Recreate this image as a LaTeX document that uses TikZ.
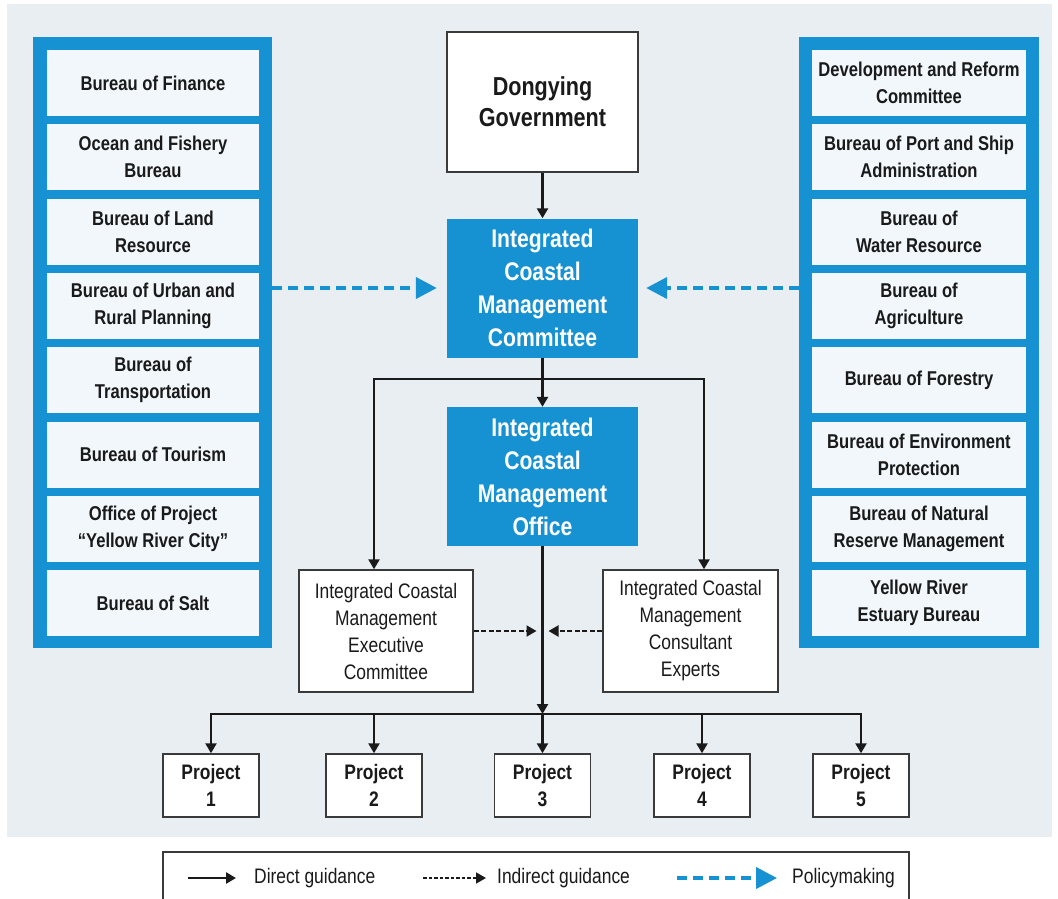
\documentclass[tikz,border=0pt]{standalone}
\usepackage{fontspec}
\setmainfont[FakeStretch=0.83]{Liberation Sans}
\usetikzlibrary{arrows.meta}
\definecolor{bgc}{HTML}{E8EEF2}
\definecolor{blu}{HTML}{1691D2}
\definecolor{inbox}{HTML}{F1F7FB}
\definecolor{edge}{HTML}{3A3A3A}
\definecolor{ink}{HTML}{1A1A1A}
\begin{document}
\begin{tikzpicture}[x=1pt,y=-1pt,
  panel/.style={fill=blu, draw=none, minimum height=611, inner sep=0},
  agency/.style={fill=inbox, draw=none, minimum height=66, inner sep=0, align=center,
     font=\bfseries\fontsize{20}{27}\selectfont, text=ink},
  govbox/.style={fill=white, draw=edge, line width=1.5, minimum width=191, minimum height=140,
     inner sep=0, align=center, font=\bfseries\fontsize{26}{31}\selectfont, text=ink},
  bluebox/.style={fill=blu, draw=none, minimum width=191, minimum height=139, inner sep=0,
     text=white, align=center, font=\bfseries\fontsize{25.5}{33}\selectfont},
  subbox/.style={fill=white, draw=edge, line width=1.5, minimum height=122, inner sep=0,
     align=center, font=\fontsize{21}{27}\selectfont, text=ink},
  projbox/.style={fill=white, draw=edge, line width=1.5, minimum width=96, minimum height=63,
     inner sep=0, align=center, font=\bfseries\fontsize{21}{27}\selectfont, text=ink},
  legtext/.style={anchor=west, inner sep=0, font=\fontsize{21}{25}\selectfont, text=ink},
  direct/.style={draw=ink, line width=2.4, -{Triangle[width=11pt,length=10pt]}},
  plain/.style={draw=ink, line width=2.4, line cap=rect},
  indirect/.style={draw=ink, line width=2, dash pattern=on 5pt off 2.5pt, -{Triangle[width=11pt,length=10pt]}},
  policy/.style={draw=blu, line width=4, dash pattern=on 10pt off 6pt, -{Triangle[width=21pt,length=21pt]}}
]
\useasboundingbox (0,0) rectangle (1058,898);
% background
\fill[bgc] (7,4) rectangle (1052,837);

% panels
\node[panel, minimum width=239] (lp) at (152.5,342.5) {};
\node[panel, minimum width=240] (rp) at (919,342.5) {};

% left agencies
\node[agency, minimum width=212] (L1) at (153,83.0) {Bureau of Finance};
\node[agency, minimum width=212] (L2) at (153,157.3) {Ocean and Fishery\\Bureau};
\node[agency, minimum width=212] (L3) at (153,231.6) {Bureau of Land\\Resource};
\node[agency, minimum width=212] (L4) at (153,305.9) {Bureau of Urban and\\Rural Planning};
\node[agency, minimum width=212] (L5) at (153,380.2) {Bureau of\\Transportation};
\node[agency, minimum width=212] (L6) at (153,454.5) {Bureau of Tourism};
\node[agency, minimum width=212] (L7) at (153,528.8) {Office of Project\\“Yellow River City”};
\node[agency, minimum width=212] (L8) at (153,603.1) {Bureau of Salt};

% right agencies
\node[agency, minimum width=214] (R1) at (919,83.0) {Development and Reform\\Committee};
\node[agency, minimum width=214] (R2) at (919,157.3) {Bureau of Port and Ship\\Administration};
\node[agency, minimum width=214] (R3) at (919,231.6) {Bureau of\\Water Resource};
\node[agency, minimum width=214] (R4) at (919,305.9) {Bureau of\\Agriculture};
\node[agency, minimum width=214] (R5) at (919,380.2) {Bureau of Forestry};
\node[agency, minimum width=214] (R6) at (919,454.5) {Bureau of Environment\\Protection};
\node[agency, minimum width=214] (R7) at (919,528.8) {Bureau of Natural\\Reserve Management};
\node[agency, minimum width=214] (R8) at (919,603.1) {Yellow River\\Estuary Bureau};

% centre column
\node[govbox] (gov) at (542.5,102) {Dongying\\Government};
\node[bluebox] (com) at (542.5,288) {Integrated\\Coastal\\Management\\Committee};
\node[bluebox] (off) at (542.5,476.5) {Integrated\\Coastal\\Management\\Office};
\node[subbox, minimum width=174] (exe) at (386,631) {Integrated Coastal\\Management\\Executive\\Committee};
\node[subbox, minimum width=175] (con) at (690.5,631) {Integrated Coastal\\Management\\Consultant\\Experts};

% projects
\node[projbox] (p1) at (211,785.5) {Project\\1};
\node[projbox] (p2) at (374,785.5) {Project\\2};
\node[projbox] (p3) at (542.5,785.5) {Project\\3};
\node[projbox] (p4) at (702,785.5) {Project\\4};
\node[projbox] (p5) at (861,785.5) {Project\\5};

% policy arrows
\draw[policy] (lp.east |- com.west) -- ([xshift=-10pt]com.west);
\draw[policy] (rp.west |- com.east) -- ([xshift=8pt]com.east);

% direct guidance
\draw[direct] (gov.south) -- (com.north);
\draw[direct] (com.south) -- (off.north);
\coordinate (bl) at (374,379);
\coordinate (br) at (704,379);
\draw[plain] (bl) -- (br);
\draw[direct] (bl) -- (bl |- exe.north);
\draw[direct] (br) -- (br |- con.north);

\coordinate (pj) at (542.5,714);
\draw[direct] (off.south) -- (pj);
\draw[plain] (p1.north |- pj) -- (p5.north |- pj);
\foreach \p in {p1,p2,p3,p4,p5}{\draw[direct] (\p.north |- pj) -- (\p.north);}

% indirect guidance
\coordinate (mid) at (542.5,631);
\draw[indirect] (exe.east) -- ([xshift=-6pt]mid);
\draw[indirect] (con.west) -- ([xshift=6pt]mid);

% legend
\draw[fill=white, draw=edge, line width=1.5] (163,852) rectangle (909,930);
\coordinate (d1) at (188,878); \coordinate (d2) at (236,878);
\coordinate (i1) at (423,878); \coordinate (i2) at (486,878);
\coordinate (q1) at (677,878); \coordinate (q2) at (777,878);
\draw[direct] (d1) -- (d2);
\draw[indirect, line width=1.6, dash pattern=on 3.5pt off 2pt] (i1) -- (i2);
\draw[policy] (q1) -- (q2);
\node[legtext] (dl) at (254,878) {Direct guidance};
\node[legtext] (il) at (497,878) {Indirect guidance};
\node[legtext] (ql) at (792,878) {Policymaking};
\end{tikzpicture}
\end{document}
